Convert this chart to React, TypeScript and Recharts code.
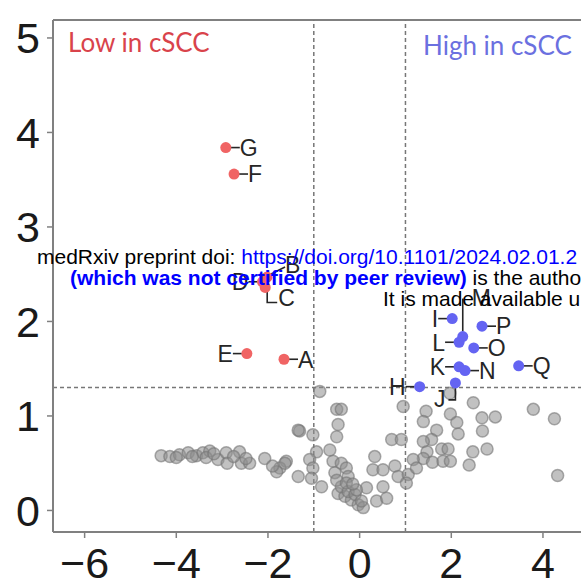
import { ReferenceLine, Scatter, ScatterChart, XAxis, YAxis } from "recharts";

// log2 fold change (x) vs -log10 p (y)
const xTicks = [-6, -4, -2, 0, 2, 4];
const yTicks = [0, 1, 2, 3, 4, 5];
const xDomain: [number, number] = [-6.69, 4.83];
const yDomain: [number, number] = [-0.228, 5.19];
const pThreshold = 1.301;
const fcThreshold = 1;

const lowGenes = [
  { name: "A", x: -1.65, y: 1.6 },
  { name: "B", x: -2.02, y: 2.47 },
  { name: "C", x: -2.06, y: 2.36 },
  { name: "D", x: -2.12, y: 2.42 },
  { name: "E", x: -2.46, y: 1.66 },
  { name: "F", x: -2.74, y: 3.56 },
  { name: "G", x: -2.92, y: 3.84 },
];

const highGenes = [
  { name: "H", x: 1.31, y: 1.31 },
  { name: "I", x: 2.02, y: 2.03 },
  { name: "J", x: 2.09, y: 1.35 },
  { name: "K", x: 2.17, y: 1.52 },
  { name: "L", x: 2.17, y: 1.78 },
  { name: "M", x: 2.25, y: 1.84 },
  { name: "N", x: 2.3, y: 1.48 },
  { name: "O", x: 2.49, y: 1.72 },
  { name: "P", x: 2.67, y: 1.95 },
  { name: "Q", x: 3.47, y: 1.53 },
];

const otherGenes: [number, number][] = [
  [2.48, 1.14], [3.79, 1.07], [4.25, 0.97], [4.32, 0.37], [1.45, 1.05],
  [1.39, 0.94], [1.98, 1.02], [2.12, 0.93], [2.15, 0.81], [2.67, 0.98],
  [2.96, 0.99], [2.68, 0.84], [1.68, 0.85], [1.57, 0.75], [1.39, 0.73],
  [1.47, 0.62], [1.79, 0.65], [1.93, 0.65], [2.47, 0.62], [2.78, 0.65],
  [1.39, 0.55], [1.59, 0.51], [1.82, 0.52], [1.98, 0.52], [2.39, 0.48],
  [1.97, 1.24], [-0.87, 1.26], [-0.5, 1.07], [-0.4, 1.07], [0.95, 1.1],
  [-1.31, 0.84], [-1.02, 0.8], [-0.47, 0.91], [-0.5, 0.78], [-0.65, 0.64],
  [-0.94, 0.62], [0.7, 0.75], [0.91, 0.75], [0.33, 0.57], [-1.6, 0.52],
  [-1.74, 0.45], [-1.09, 0.54], [-1.02, 0.45], [-1.34, 0.36], [-1.05, 0.34],
  [-0.58, 0.52], [-0.4, 0.5], [-0.29, 0.45], [-0.54, 0.4], [-0.25, 0.36],
  [0.29, 0.43], [0.51, 0.43], [0.77, 0.47], [0.84, 0.36], [1.06, 0.38],
  [1.17, 0.54], [1.24, 0.45], [-0.83, 0.25], [0.15, 0.24], [0.51, 0.25],
  [1.02, 0.29], [-0.47, 0.18], [-0.32, 0.15], [-0.18, 0.11], [-0.03, 0.06],
  [0.08, 0.03], [0.37, 0.1], [0.59, 0.13], [-0.4, 0.25], [-0.25, 0.2],
  [-0.1, 0.17], [0.04, 0.1], [-0.5, 0.32], [-0.29, 0.29], [-0.07, 0.22],
  [-4.33, 0.58], [-4.14, 0.57], [-3.93, 0.59], [-3.74, 0.61], [-3.56, 0.58],
  [-3.42, 0.61], [-3.27, 0.63], [-3.09, 0.54], [-2.91, 0.61], [-2.89, 0.5],
  [-2.62, 0.62], [-2.58, 0.5], [-2.4, 0.5], [-2.07, 0.55], [-1.81, 0.41],
  [-1.63, 0.5], [-1.34, 0.85], [-4.0, 0.56], [-3.65, 0.57], [-3.35, 0.56],
  [-3.18, 0.6], [-2.75, 0.57], [-2.48, 0.55], [-1.9, 0.47], [-0.15, 0.28],
];

// where each gene label sits relative to its dot
const labelSide: Record<string, string> = {
  A: "right", B: "upRight", C: "downRight", D: "left", E: "left", F: "right", G: "right",
  H: "left", I: "left", J: "downLeft", K: "left", L: "left", M: "up", N: "right",
  O: "right", P: "right", Q: "right",
};

const otherData = otherGenes.map(([x, y]) => ({ x, y }));
const labelFont = "'Liberation Sans', Arial, sans-serif";
const ink = "#262626";

function GeneDot(props: any) {
  const { cx, cy, payload, fill } = props;
  const side = labelSide[payload.name];
  const t = { fontSize: 23, fontFamily: labelFont, fill: ink } as const;
  const ln = { stroke: ink, strokeWidth: 1.6 };
  let label = null;
  if (side === "right") {
    label = (
      <g>
        <line x1={cx + 5} y1={cy} x2={cx + 14} y2={cy} {...ln} />
        <text x={cx + 14} y={cy} dy="0.36em" {...t}>{payload.name}</text>
      </g>
    );
  } else if (side === "left") {
    label = (
      <g>
        <line x1={cx - 5} y1={cy} x2={cx - 14} y2={cy} {...ln} />
        <text x={cx - 14} y={cy} dy="0.36em" textAnchor="end" {...t}>{payload.name}</text>
      </g>
    );
  } else if (side === "up") {
    label = (
      <g>
        <line x1={cx} y1={cy - 5} x2={cx} y2={cy - 38} {...ln} />
        <text x={cx + 9} y={cy - 31} {...t}>{payload.name}</text>
      </g>
    );
  } else if (side === "upRight") {
    label = (
      <g>
        <line x1={cx + 4} y1={cy - 3} x2={cx + 18} y2={cy - 10} {...ln} />
        <text x={cx + 18} y={cy - 4} {...t}>{payload.name}</text>
      </g>
    );
  } else if (side === "downRight") {
    label = (
      <g>
        <polyline points={`${cx + 2},${cy + 4} ${cx + 2},${cy + 15} ${cx + 12},${cy + 15}`} fill="none" {...ln} />
        <text x={cx + 13} y={cy + 10} dy="0.36em" {...t}>{payload.name}</text>
      </g>
    );
  } else if (side === "downLeft") {
    label = (
      <g>
        <polyline points={`${cx},${cy + 5} ${cx},${cy + 17} ${cx - 7},${cy + 17}`} fill="none" {...ln} />
        <text x={cx - 10} y={cy + 16} dy="0.36em" textAnchor="end" {...t}>{payload.name}</text>
      </g>
    );
  }
  return (
    <g>
      {label}
      <circle cx={cx} cy={cy} r={5.5} fill={fill} />
    </g>
  );
}

function GreyDot(props: any) {
  const { cx, cy } = props;
  return (
    <circle cx={cx} cy={cy} r={6} fill="#8e8e8e" fillOpacity={0.55} stroke="#747474" strokeOpacity={0.6} strokeWidth={1.5} />
  );
}

const tickStyle = { fontSize: 43, fill: "#1a1a1a", fontFamily: labelFont };
const fmt = (v: number) => (v < 0 ? `\u2212${-v}` : `${v}`);

export default function App() {
  return (
    <div style={{ position: "absolute", left: 0, top: 0, width: 581, height: 583, background: "#fff", overflow: "hidden" }}>
      <ScatterChart width={581} height={583} margin={{ top: 20, right: 0, bottom: 0, left: 0 }}>
        <XAxis
          type="number"
          dataKey="x"
          domain={xDomain}
          ticks={xTicks}
          height={51}
          tickFormatter={fmt}
          tick={tickStyle}
          tickSize={6}
          tickMargin={9}
          axisLine={{ stroke: "#808080", strokeWidth: 2 }}
          tickLine={{ stroke: "#808080", strokeWidth: 1.5 }}
          allowDataOverflow
        />
        <YAxis
          type="number"
          dataKey="y"
          domain={yDomain}
          ticks={yTicks}
          width={53}
          tick={tickStyle}
          tickSize={6}
          tickMargin={7}
          axisLine={{ stroke: "#808080", strokeWidth: 2 }}
          tickLine={{ stroke: "#808080", strokeWidth: 1.5 }}
          allowDataOverflow
        />
        <ReferenceLine y={yDomain[1]} stroke="#808080" strokeWidth={2} />
        <ReferenceLine x={-fcThreshold} stroke="#777" strokeWidth={1.5} strokeDasharray="4 3" />
        <ReferenceLine x={fcThreshold} stroke="#777" strokeWidth={1.5} strokeDasharray="4 3" />
        <ReferenceLine y={pThreshold} stroke="#777" strokeWidth={1.5} strokeDasharray="4 3" />
        <Scatter data={otherData} shape={<GreyDot />} isAnimationActive={false} />
        <Scatter data={lowGenes} fill="#f06464" shape={<GeneDot />} isAnimationActive={false} />
        <Scatter data={highGenes} fill="#6464f2" shape={<GeneDot />} isAnimationActive={false} />
      </ScatterChart>
      <svg width={581} height={583} style={{ position: "absolute", left: 0, top: 0, pointerEvents: "none" }}>
        <text x={68} y={52} fontSize={26} fontFamily="Lato, 'Open Sans', sans-serif" fill="#d9434b">Low in cSCC</text>
        <text x={423} y={55} fontSize={26} fontFamily="Lato, 'Open Sans', sans-serif" fill="#6b70e0">High in cSCC</text>
        <g fontSize={21} fontFamily={labelFont} style={{ whiteSpace: "pre" }}>
          <text x={37} y={264}>
            <tspan fill="#000">{"medRxiv preprint doi: "}</tspan>
            <tspan fill="#0000ff">https://doi.org/10.1101/2024.02.01.2</tspan>
          </text>
          <text x={70} y={285}>
            <tspan fill="#0000ff" fontWeight="bold">(which was not certified by peer review)</tspan>
            <tspan fill="#000">{" is the author/funder"}</tspan>
          </text>
          <text x={383} y={306} fill="#000">It is made available under a license</text>
        </g>
      </svg>
    </div>
  );
}
